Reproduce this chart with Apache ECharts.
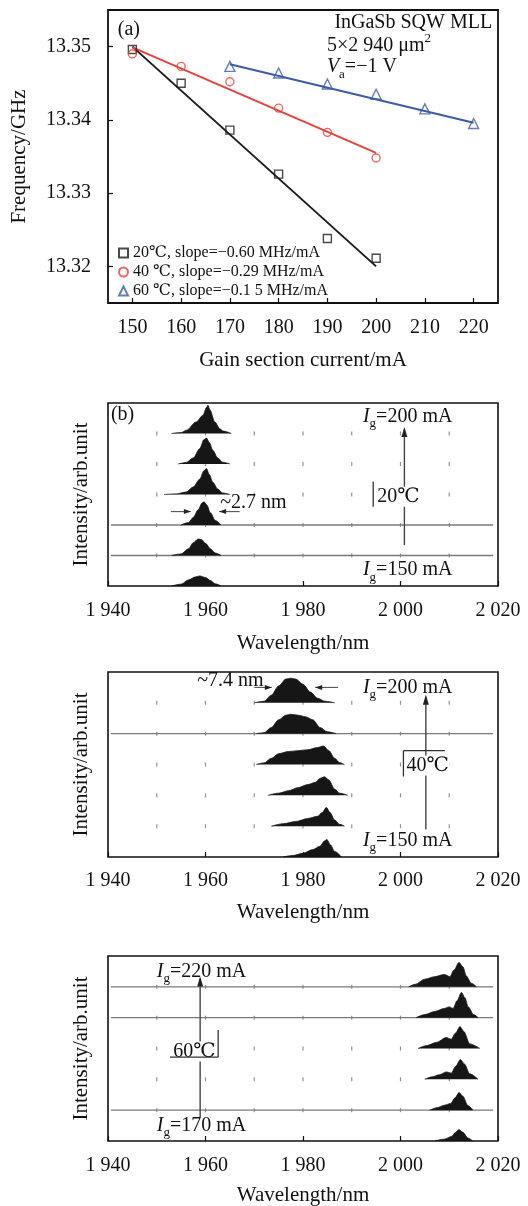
<!DOCTYPE html>
<html>
<head>
<meta charset="utf-8">
<script src="https://cdn.jsdelivr.net/npm/echarts@6/dist/echarts.min.js"></script>
<style>
html,body{margin:0;padding:0;background:#fff;}
#main{width:528px;height:1206px;}
</style>
</head>
<body>
<div id="main"></div>
<script>
var FONT = '"Liberation Serif","DejaVu Serif","Times New Roman",serif';

// ---- panel (a): mode-locking frequency vs gain current
var current20 = [150, 160, 170, 180, 190, 200];
var freq20 = [13.3496, 13.3450, 13.3386, 13.3326, 13.3238, 13.3211];
var current40 = [150, 160, 170, 180, 190, 200];
var freq40 = [13.3490, 13.3473, 13.3452, 13.3416, 13.3383, 13.3348];
var current60 = [170, 180, 190, 200, 210, 220];
var freq60 = [13.3473, 13.3464, 13.3449, 13.3435, 13.3415, 13.3395];
var fit20 = [[150, 13.3500], [200, 13.3200]];
var fit40 = [[150, 13.3499], [200, 13.3355]];
var fit60 = [[170, 13.3476], [220, 13.3396]];
var legendNames = ['20\u2103, slope=\u22120.60 MHz/mA', '40 \u2103, slope=\u22120.29 MHz/mA', '60 \u2103, slope=\u22120.1 5 MHz/mA'];
var currentTicks = [150, 160, 170, 180, 190, 200, 210, 220];
var freqTicks = [13.32, 13.33, 13.34, 13.35];

// ---- panels (b): spectra, envelopes [wavelength nm, height], top (highest current) first
var offsets = [5, 4, 3, 2, 1, 0];
var spectra20 = [
  [[1953.0,0],[1955.0,0.03],[1956.1,0.11],[1958.1,0.38],[1959.5,0.6],[1960.2,0.85],[1960.5,0.93],[1960.9,0.78],[1961.9,0.38],[1963.0,0.15],[1963.6,0.08],[1965.3,0]],
  [[1954.4,0],[1956.0,0.05],[1957.5,0.2],[1958.8,0.5],[1959.7,0.8],[1960.2,0.85],[1960.8,0.7],[1961.5,0.45],[1962.5,0.2],[1963.5,0.06],[1965.0,0]],
  [[1951.5,0],[1954.0,0.02],[1956.0,0.08],[1957.5,0.25],[1958.8,0.5],[1959.7,0.78],[1960.2,0.85],[1960.8,0.65],[1961.5,0.4],[1962.5,0.18],[1963.5,0.05],[1965.0,0]],
  [[1955.0,0],[1956.5,0.08],[1957.5,0.25],[1958.5,0.5],[1959.3,0.72],[1959.7,0.76],[1960.3,0.65],[1961.0,0.4],[1962.0,0.15],[1963.2,0]],
  [[1953.0,0],[1955.0,0.05],[1956.5,0.22],[1957.5,0.42],[1958.5,0.54],[1959.2,0.52],[1960.0,0.4],[1961.0,0.22],[1962.0,0.08],[1963.2,0]],
  [[1953.0,0],[1955.0,0.06],[1956.5,0.2],[1958.0,0.3],[1958.8,0.33],[1960.0,0.28],[1961.0,0.18],[1962.0,0.07],[1963.2,0]]
];
var spectra40 = [
  [[1970.0,0],[1972.0,0.05],[1973.5,0.25],[1975.0,0.55],[1976.5,0.77],[1977.5,0.8],[1978.5,0.77],[1980.0,0.6],[1981.5,0.35],[1983.0,0.15],[1984.5,0.05],[1986.5,0]],
  [[1970.4,0],[1972.0,0.03],[1973.5,0.2],[1975.0,0.45],[1976.5,0.6],[1977.5,0.63],[1979.0,0.6],[1980.5,0.55],[1982.0,0.45],[1983.5,0.2],[1985.0,0.06],[1986.8,0]],
  [[1970.4,0],[1972.0,0.05],[1973.5,0.2],[1975.0,0.35],[1977.0,0.42],[1979.0,0.45],[1981.0,0.48],[1983.0,0.55],[1984.2,0.6],[1985.3,0.45],[1986.5,0.2],[1987.5,0.06],[1988.5,0]],
  [[1972.8,0],[1975.0,0.07],[1977.0,0.15],[1979.0,0.25],[1981.0,0.35],[1982.5,0.42],[1983.5,0.55],[1984.4,0.6],[1985.3,0.5],[1986.5,0.2],[1987.5,0.07],[1989.2,0]],
  [[1973.5,0],[1976.0,0.08],[1978.5,0.15],[1981.0,0.25],[1983.0,0.32],[1984.0,0.45],[1984.8,0.61],[1985.5,0.45],[1986.5,0.2],[1987.5,0.06],[1988.5,0]],
  [[1975.9,0],[1978.0,0.05],[1980.0,0.12],[1982.0,0.24],[1983.5,0.35],[1984.4,0.52],[1984.9,0.57],[1985.6,0.4],[1986.5,0.18],[1987.9,0]]
];
var spectra60 = [
  [[2001.7,0],[2003.0,0.08],[2005.0,0.25],[2007.0,0.33],[2009.0,0.4],[2010.1,0.33],[2011.0,0.55],[2012.0,0.79],[2012.8,0.65],[2013.5,0.35],[2014.5,0.12],[2015.6,0]],
  [[2003.2,0],[2005.0,0.1],[2007.0,0.2],[2009.0,0.3],[2010.0,0.35],[2010.8,0.3],[2011.6,0.55],[2012.5,0.82],[2013.2,0.65],[2013.9,0.35],[2015.0,0.1],[2015.9,0]],
  [[2003.6,0],[2005.5,0.1],[2007.4,0.2],[2009.4,0.36],[2010.4,0.3],[2011.3,0.5],[2012.2,0.71],[2013.0,0.55],[2014.2,0.15],[2016.3,0]],
  [[2005.0,0],[2006.5,0.08],[2008.0,0.15],[2009.4,0.24],[2010.4,0.2],[2011.3,0.42],[2012.3,0.64],[2013.1,0.5],[2014.2,0.18],[2015.9,0]],
  [[2006.0,0],[2007.5,0.08],[2009.0,0.16],[2010.3,0.22],[2011.2,0.4],[2012.0,0.57],[2012.8,0.45],[2013.8,0.15],[2014.9,0]],
  [[2007.0,0],[2009.0,0.06],[2010.5,0.15],[2011.3,0.28],[2012.0,0.37],[2012.8,0.28],[2013.8,0.1],[2014.8,0]]
];
var baseLines20 = [2, 1];
var baseLines40 = [4];
var baseLines60 = [5, 4, 1];
var lineSpan = [1940.6, 2019.0];
var wlMarks = [1950, 1960, 1970, 1980, 1990, 2000, 2010];
var markRows = [1, 2, 3, 4, 5];

var chart = echarts.init(document.getElementById('main'), null, {renderer: 'canvas'});

function wlLabel(v) {
    var s = String(v);
    return s.slice(0, 1) + ' ' + s.slice(1);
}

function spectrumGrid(top, h) {
    return {left: 108, top: top, width: 390, height: h, show: true, borderColor: '#111', borderWidth: 1.6, outerBoundsMode: 'none'};
}

var grids = [
    {left: 108, top: 10, width: 390, height: 293, show: true, borderColor: '#111', borderWidth: 1.8, outerBoundsMode: 'none'},
    spectrumGrid(403, 183),
    spectrumGrid(672, 185),
    spectrumGrid(956, 185)
];

var xAxes = [{
    gridIndex: 0, type: 'value', min: 145, max: 225,
    axisLine: {show: false},
    axisTick: {show: true, inside: true, length: 5, customValues: currentTicks, lineStyle: {color: '#111', width: 1.2}},
    axisLabel: {customValues: currentTicks, margin: 15, color: '#111', fontFamily: FONT, fontSize: 20},
    splitLine: {show: false},
    name: 'Gain section current/mA', nameLocation: 'middle', nameGap: 47,
    nameTextStyle: {color: '#111', fontFamily: FONT, fontSize: 21}
}];
var panelGaps = [[15, 47], [14, 45], [15, 44]];
for (var g = 1; g <= 3; g++) {
    xAxes.push({
        gridIndex: g, type: 'value', min: 1940, max: 2020, interval: 20,
        axisLine: {show: false},
        axisTick: {show: true, inside: true, length: 5, lineStyle: {color: '#111', width: 1.2}},
        axisLabel: {margin: panelGaps[g - 1][0], color: '#111', fontFamily: FONT, fontSize: 20, formatter: wlLabel},
        splitLine: {show: false},
        name: 'Wavelength/nm', nameLocation: 'middle', nameGap: panelGaps[g - 1][1],
        nameTextStyle: {color: '#111', fontFamily: FONT, fontSize: 21}
    });
}

var yAxes = [{
    gridIndex: 0, type: 'value', min: 13.315, max: 13.355,
    axisLine: {show: false},
    axisTick: {show: true, inside: true, length: 5, customValues: freqTicks, lineStyle: {color: '#111', width: 1.2}},
    axisLabel: {customValues: freqTicks, margin: 17, color: '#111', fontFamily: FONT, fontSize: 20,
        formatter: function (v) { return v.toFixed(2); }},
    splitLine: {show: false},
    name: 'Frequency/GHz', nameLocation: 'middle', nameGap: 78,
    nameTextStyle: {color: '#111', fontFamily: FONT, fontSize: 21}
}];
for (var g2 = 1; g2 <= 3; g2++) {
    yAxes.push({
        gridIndex: g2, type: 'value', min: 0, max: 6,
        axisLine: {show: false}, axisTick: {show: false}, axisLabel: {show: false}, splitLine: {show: false},
        name: 'Intensity/arb.unit', nameLocation: 'middle', nameGap: 16,
        nameTextStyle: {color: '#111', fontFamily: FONT, fontSize: 21}
    });
}

var series = [];

function zip(xs, ys) {
    return xs.map(function (x, i) { return [x, ys[i]]; });
}

var aColors = ['#1c1c1c', '#e4433b', '#3c5ca8'];
var aSymbols = ['rect', 'circle', 'triangle'];
var aSizes = [8, 8, 10];
var aData = [zip(current20, freq20), zip(current40, freq40), zip(current60, freq60)];
var aFits = [fit20, fit40, fit60];
for (var k = 0; k < 3; k++) {
    series.push({
        type: 'line', xAxisIndex: 0, yAxisIndex: 0, data: aFits[k], showSymbol: false,
        lineStyle: {color: aColors[k], width: 2}, silent: true, z: 2
    });
}
for (var k2 = 0; k2 < 3; k2++) {
    series.push({
        name: legendNames[k2], type: 'scatter', xAxisIndex: 0, yAxisIndex: 0, data: aData[k2],
        symbol: aSymbols[k2], symbolSize: aSizes[k2],
        itemStyle: {color: 'rgba(255,255,255,0)', borderColor: aColors[k2], borderWidth: 1.4}, z: 3
    });
}

function addSpectra(g, spectra, baseLines) {
    // small tick marks along each offset baseline
    var marks = [];
    markRows.forEach(function (r) {
        wlMarks.forEach(function (w) { marks.push([w, r]); });
    });
    series.push({
        type: 'scatter', xAxisIndex: g, yAxisIndex: g, data: marks, symbol: 'rect', symbolSize: [1.2, 4],
        itemStyle: {color: '#777'}, silent: true, z: 1
    });
    baseLines.forEach(function (b) {
        series.push({
            type: 'line', xAxisIndex: g, yAxisIndex: g, data: [[lineSpan[0], b], [lineSpan[1], b]],
            showSymbol: false, lineStyle: {color: '#7a7a7a', width: 1.4}, silent: true, z: 2
        });
    });
    spectra.forEach(function (env, i) {
        var off = offsets[i];
        series.push({
            type: 'line', xAxisIndex: g, yAxisIndex: g,
            data: env.map(function (p) { return [p[0], p[1] + off]; }),
            showSymbol: false, smooth: 0.3, smoothMonotone: 'x',
            lineStyle: {color: '#161616', width: 0.8},
            areaStyle: {color: '#161616', opacity: 1, origin: off},
            silent: true, z: 3
        });
    });
}
addSpectra(1, spectra20, baseLines20);
addSpectra(2, spectra40, baseLines40);
addSpectra(3, spectra60, baseLines60);

chart.setOption({
    animation: false,
    backgroundColor: '#fff',
    grid: grids,
    xAxis: xAxes,
    yAxis: yAxes,
    legend: {
        data: legendNames, orient: 'vertical', left: 118, top: 245, padding: 0,
        itemWidth: 9, itemHeight: 9, itemGap: 3, selectedMode: false,
        textStyle: {color: '#111', fontFamily: FONT, fontSize: 16, lineHeight: 16}
    },
    series: series
});

// ---- annotations, placed in data coordinates of each panel
function P(g, x, y) { return chart.convertToPixel({gridIndex: g}, [x, y]); }
var els = [];
var richBase = {
    n: {fontFamily: FONT, fontSize: 20, lineHeight: 28, fill: '#111'},
    c: {fontFamily: FONT, fontSize: 20, lineHeight: 20, fill: '#111'},
    i: {fontFamily: FONT, fontSize: 20, lineHeight: 28, fontStyle: 'italic', fill: '#111'},
    s: {fontFamily: FONT, fontSize: 13, lineHeight: 14, padding: [14, 0, 0, 0], fill: '#111'},
    u: {fontFamily: FONT, fontSize: 13, lineHeight: 14, padding: [0, 0, 14, 0], fill: '#111'}
};
function text(g, x, y, str, align, bg) {
    var p = P(g, x, y);
    els.push({
        type: 'text', x: p[0], y: p[1], z: 20,
        style: {text: str, rich: richBase, align: align || 'left', verticalAlign: 'middle',
            backgroundColor: bg ? '#fff' : null, padding: bg ? [0, 1] : 0}
    });
}
function seg(g, x1, y1, x2, y2, w, col) {
    var a = P(g, x1, y1), b = P(g, x2, y2);
    els.push({type: 'line', z: 21, shape: {x1: a[0], y1: a[1], x2: b[0], y2: b[1]},
        style: {stroke: col || '#333', lineWidth: w || 1.3}});
}
function arrowUp(g, x, y1, y2) {
    var a = P(g, x, y1), t = P(g, x, y2);
    els.push({type: 'line', z: 15, shape: {x1: a[0], y1: a[1], x2: t[0], y2: t[1]},
        style: {stroke: '#444', lineWidth: 1.4}});
    els.push({type: 'polygon', z: 16, shape: {points: [[t[0], t[1] - 2], [t[0] - 3, t[1] + 8], [t[0] + 3, t[1] + 8]]},
        style: {fill: '#222'}});
}
function arrowH(g, x1, x2, y) {
    seg(g, x1, y, x2, y, 1.1, '#555');
    var t = P(g, x2, y);
    var d = x2 > x1 ? -1 : 1;
    els.push({type: 'polygon', z: 22, shape: {points: [[t[0], t[1]], [t[0] + d * 7, t[1] - 2.5], [t[0] + d * 7, t[1] + 2.5]]},
        style: {fill: '#222'}});
}

// panel (a)
text(0, 147.0, 13.3523, '{n|(a)}');
text(0, 223.8, 13.3532, '{n|InGaSb SQW MLL}', 'right');
text(0, 189.9, 13.3501, '{n|5\u00d72 940 \u03bcm}{u|2}');
text(0, 189.9, 13.3472, '{i|V}{s|a}{n|=\u22121 V}');

// panel 20 C
text(1, 1940.6, 5.6, '{n|(b)}');
arrowUp(1, 2000.8, 1.34, 5.15);
text(1, 1992.3, 5.55, '{i|I}{s|g}{n|=200 mA}');
text(1, 1992.3, 0.52, '{i|I}{s|g}{n|=150 mA}');
text(1, 1995.0, 2.93, '{c|20\u2103}', 'left', true);
seg(1, 1994.4, 3.42, 1994.4, 2.6, 1.3, '#333');
text(1, 1963.0, 2.72, '{n|~2.7 nm}');
arrowH(1, 1952.9, 1957.0, 2.44);
arrowH(1, 1967.0, 1962.8, 2.44);

// panel 40 C
arrowUp(2, 2005.2, 0.89, 5.2);
text(2, 1992.3, 5.5, '{i|I}{s|g}{n|=200 mA}');
text(2, 1992.3, 0.54, '{i|I}{s|g}{n|=150 mA}');
text(2, 2001.0, 2.97, '{c|40\u2103}', 'left', true);
seg(2, 2000.6, 3.45, 2009.1, 3.45, 1.3, '#333');
seg(2, 2000.6, 3.45, 2000.6, 2.61, 1.3, '#333');
text(2, 1958.3, 5.72, '{n|~7.4 nm}');
arrowH(2, 1970.0, 1973.6, 5.5);
arrowH(2, 1987.2, 1982.5, 5.5);

// panel 60 C
arrowUp(3, 1958.9, 0.78, 5.27);
text(3, 1950.0, 5.49, '{i|I}{s|g}{n|=220 mA}');
text(3, 1950.0, 0.51, '{i|I}{s|g}{n|=170 mA}');
text(3, 1953.2, 2.9, '{c|60\u2103}', 'left', true);
seg(3, 1962.6, 3.6, 1962.6, 2.72, 1.3, '#333');
seg(3, 1952.7, 2.72, 1962.6, 2.72, 1.3, '#333');

chart.setOption({graphic: {elements: els}});
</script>
</body>
</html>
